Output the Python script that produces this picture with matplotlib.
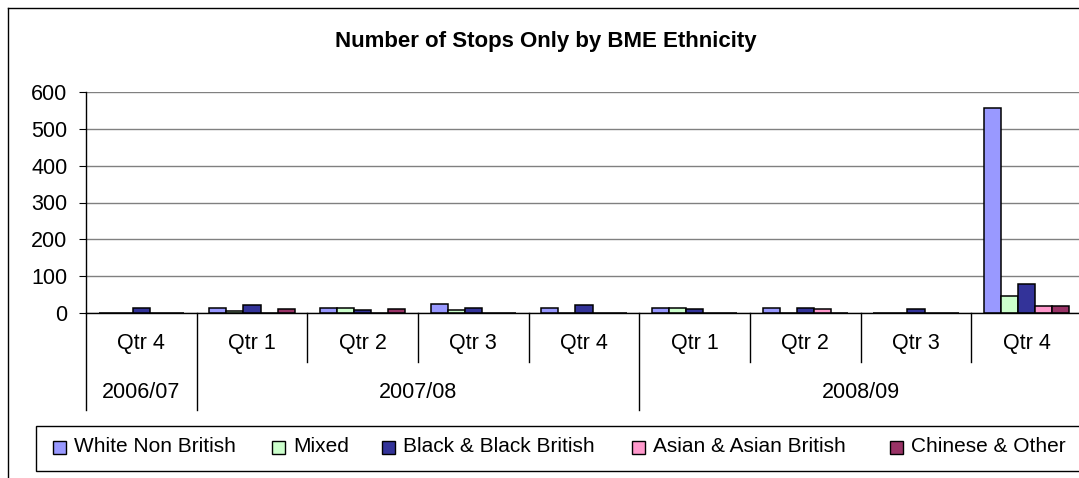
import matplotlib
matplotlib.use("Agg")
import matplotlib.pyplot as plt
import numpy as np
from matplotlib.lines import Line2D
from matplotlib.patches import Rectangle

plt.rcParams['font.family'] = ['Liberation Sans', 'DejaVu Sans']

# ---- data ----
quarters = ["Qtr 4", "Qtr 1", "Qtr 2", "Qtr 3", "Qtr 4", "Qtr 1", "Qtr 2", "Qtr 3", "Qtr 4"]
years = ["2006/07", "2007/08", "2008/09"]
year_spans = [(0, 0), (1, 4), (5, 8)]
series_names = ["White Non British", "Mixed", "Black & Black British",
                "Asian & Asian British", "Chinese & Other"]
white_non_british = [2, 15, 15, 26, 15, 15, 15, 2, 556]
mixed = [2, 7, 15, 9, 2, 15, 2, 2, 47]
black_british = [15, 22, 8, 15, 22, 11, 15, 11, 79]
asian_british = [0, 2, 2, 2, 2, 2, 11, 2, 20]
chinese_other = [2, 11, 11, 2, 2, 2, 2, 0, 20]
colors = ["#9999FF", "#CCFFCC", "#333399", "#FF99CC", "#993366"]
yticks = [0, 100, 200, 300, 400, 500, 600]

series = [white_non_british, mixed, black_british, asian_british, chinese_other]

W, H = 1079, 478
fig = plt.figure(figsize=(W / 100, H / 100), dpi=100)

def fx(x):
    return x / W

def fy(y):
    return 1 - y / H

# axes geometry in pixels
ax_left, ax_right = 86, 1082
ax_top, ax_bottom = 91.7, 313.3
ax = fig.add_axes([fx(ax_left), fy(ax_bottom), (ax_right - ax_left) / W, (ax_bottom - ax_top) / H])

n = len(series)
bw = 1 / (n + 1.5)
x = np.arange(len(quarters))
for i, (vals, c) in enumerate(zip(series, colors)):
    offs = (i - (n - 1) / 2) * bw
    ax.bar(x + offs, vals, width=bw, color=c, edgecolor="black", linewidth=1.1, zorder=3)

ax.set_xlim(-0.5, len(quarters) - 0.5)
ax.set_ylim(0, 600)
ax.set_yticks(yticks)
ax.set_yticklabels([str(v) for v in yticks], fontsize=15.5)
ax.tick_params(axis="y", length=5, width=0.8, pad=8.5, direction="out", color="black")
ax.set_xticks([])
ax.grid(axis="y", color="#808080", linewidth=1.0, zorder=0)
for s in ["top", "right"]:
    ax.spines[s].set_visible(False)
ax.spines["left"].set_color("black")
ax.spines["left"].set_linewidth(1.0)
ax.spines["bottom"].set_color("black")
ax.spines["bottom"].set_linewidth(1.0)
ax.spines["bottom"].set_zorder(4)

# category axis labels (two levels)
trans = ax.get_xaxis_transform()
def ay(ypx):
    return (ax_bottom - ypx) / (ax_bottom - ax_top)

for i, q in enumerate(quarters):
    ax.text(i, ay(343), q, ha="center", va="center", fontsize=15.5, transform=trans, clip_on=False)
for (a, b), yr in zip(year_spans, years):
    ax.text((a + b) / 2, ay(392), yr, ha="center", va="center", fontsize=15.5, transform=trans, clip_on=False)

year_bounds = {-0.5, 0.5, 4.5}
for b in np.arange(-0.5, len(quarters) - 0.4, 1.0):
    bottom = 410 if b in year_bounds else 362
    ax.add_line(Line2D([b, b], [0, ay(bottom)], transform=trans, color="black",
                       linewidth=1.0, clip_on=False))

# title
fig.text(fx(546), fy(42), "Number of Stops Only by BME Ethnicity", ha="center", va="center",
         fontsize=16, fontweight="bold")

# outer chart frame
fig.add_artist(Line2D([fx(8), fx(W + 5)], [fy(8), fy(8)], color="black", linewidth=1.0))
fig.add_artist(Line2D([fx(8), fx(8)], [fy(8), fy(H + 5)], color="black", linewidth=1.0))

# legend box
fig.add_artist(Rectangle((fx(36), fy(471)), (W + 20 - 36) / W, (471 - 426) / H,
                         transform=fig.transFigure, facecolor="white", edgecolor="black",
                         linewidth=1.0))
marker_x = [53, 272, 382, 632, 890]
for mx, name, c in zip(marker_x, series_names, colors):
    fig.add_artist(Rectangle((fx(mx), fy(454)), 13 / W, 13 / H, transform=fig.transFigure,
                             facecolor=c, edgecolor="black", linewidth=1.0))
    fig.text(fx(mx + 21), fy(446), name, ha="left", va="center", fontsize=15)

fig.savefig("out.png", dpi=100)
